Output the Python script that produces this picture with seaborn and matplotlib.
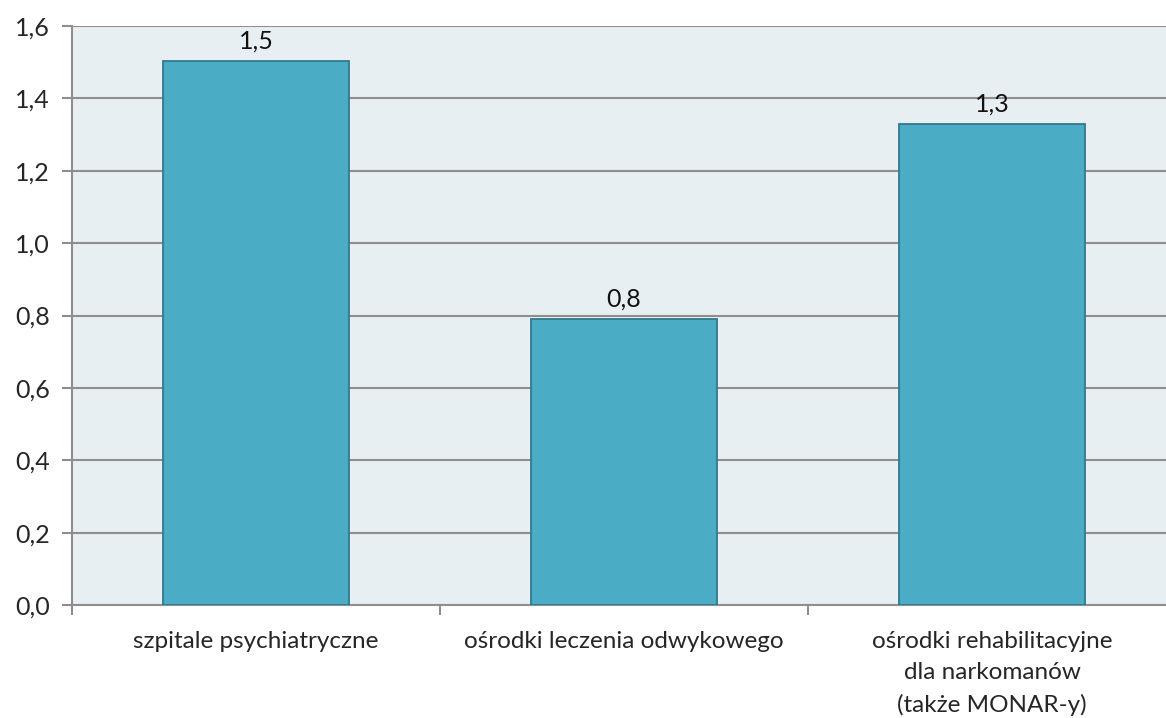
import matplotlib
matplotlib.use("Agg")
import matplotlib.pyplot as plt
import seaborn as sns
import pandas as pd
from matplotlib.ticker import FixedLocator

categories = [
    "szpitale psychiatryczne",
    "ośrodki leczenia odwykowego",
    "ośrodki rehabilitacyjne\ndla narkomanów\n(także MONAR-y)",
]
values = [1.503, 0.79, 1.329]
y_ticks = [0.0, 0.2, 0.4, 0.6, 0.8, 1.0, 1.2, 1.4, 1.6]

df = pd.DataFrame({"kategoria": categories, "wartosc": values})

sns.set_theme(style="white")
plt.rcParams["font.family"] = ["Lato", "DejaVu Sans"]

fig = plt.figure(figsize=(11.66, 7.18), dpi=100)
ax = fig.add_axes([72 / 1166, 1 - 605 / 718, (1176 - 72) / 1166, (605 - 26) / 718])
ax.set_facecolor("#E8EFF3")

sns.barplot(data=df, x="kategoria", y="wartosc", ax=ax, width=0.503,
            color="#4BACC6", saturation=1, edgecolor="#2F7A8E", linewidth=1.3,
            zorder=3)

ax.set_ylim(0, 1.6)
ax.set_xlim(-0.5, 2.5)
ax.set_yticks(y_ticks)
ax.set_yticklabels([f"{t:.1f}".replace(".", ",") for t in y_ticks], fontsize=18)
ax.yaxis.grid(True, color="#8E8E8E", linewidth=1.5, zorder=1)
ax.set_axisbelow(True)

# category labels without ticks at centres, tick marks between categories
ax.tick_params(axis="x", which="major", length=0, pad=19, labelsize=17.5)
ax.xaxis.set_minor_locator(FixedLocator([-0.5, 0.5, 1.5, 2.5]))
ax.tick_params(axis="x", which="minor", length=7, width=1.5, color="#8E8E8E",
               direction="out", bottom=True)
ax.tick_params(axis="y", length=7, width=1.5, color="#8E8E8E", direction="out",
               left=True, pad=9)
for lbl in ax.get_xticklabels():
    lbl.set_linespacing(1.58)
    lbl.set_verticalalignment("top")

ax.set_xlabel("")
ax.set_ylabel("")

for s in ["top", "right"]:
    ax.spines[s].set_visible(False)
for s in ["left", "bottom"]:
    ax.spines[s].set_color("#8E8E8E")
    ax.spines[s].set_linewidth(1.5)

for i, v in enumerate(values):
    ax.annotate(f"{v:.1f}".replace(".", ","), (i, v), xytext=(0, 6),
                textcoords="offset points", ha="center", va="bottom",
                fontsize=18, color="#111111")

fig.savefig("out.png", dpi=100)
